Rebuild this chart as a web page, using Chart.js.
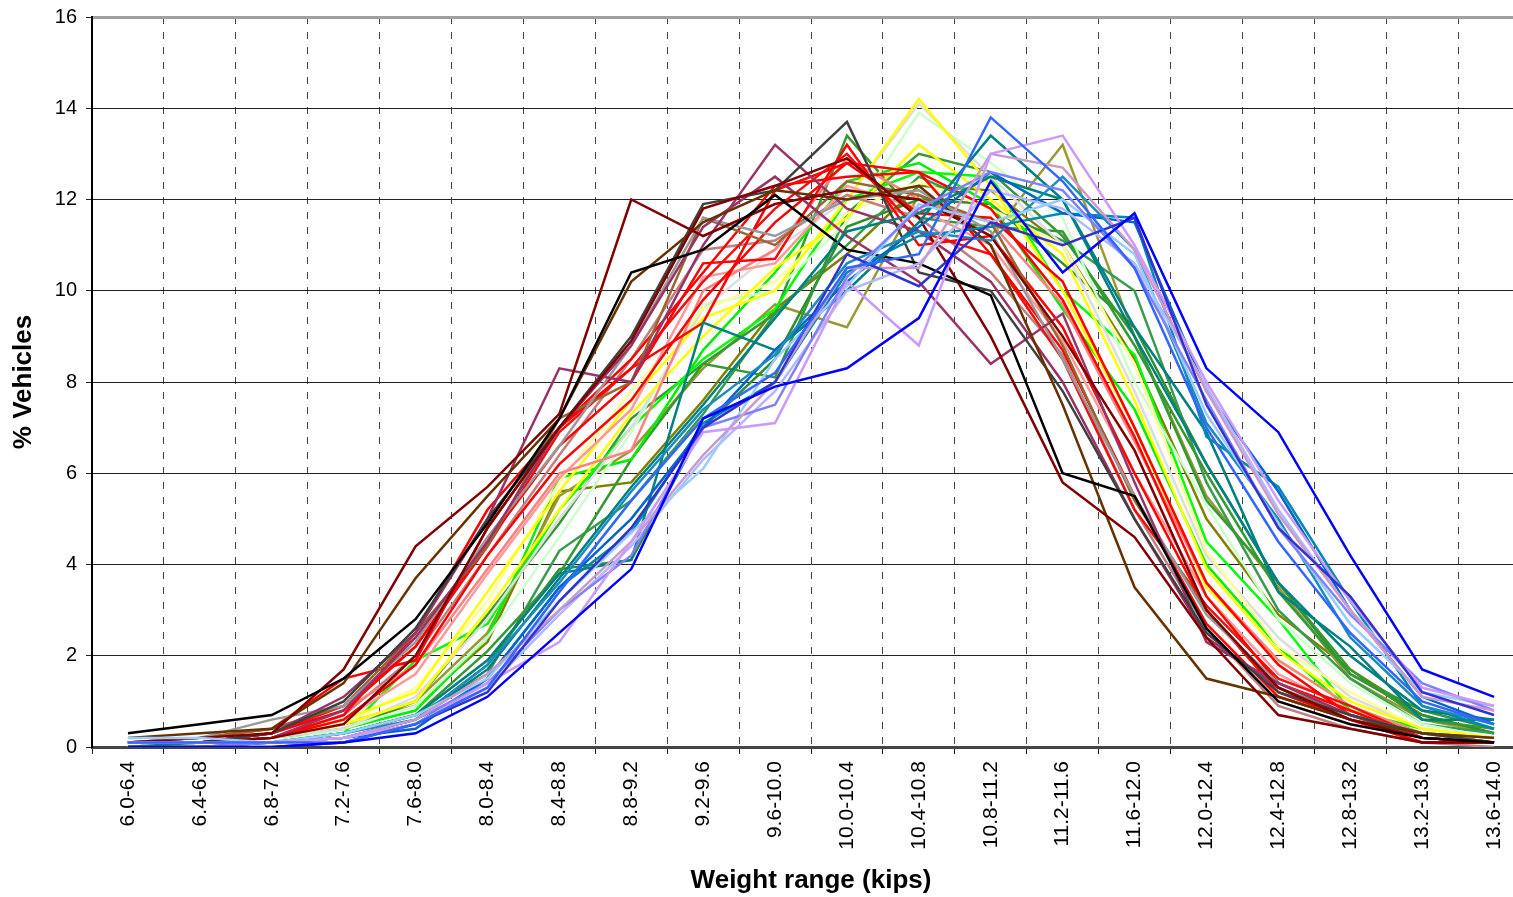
<!DOCTYPE html>
<html>
<head>
<meta charset="utf-8">
<script src="https://cdn.jsdelivr.net/npm/chart.js@4.4.1/dist/chart.umd.min.js"></script>
<style>
  html, body { margin: 0; padding: 0; background: #fff; overflow: hidden; }
  canvas { display: block; }
</style>
</head>
<body>
<canvas id="chart" width="1531" height="897"></canvas>
<script>
// weight bins (kips)
const categories = ['6.0-6.4','6.4-6.8','6.8-7.2','7.2-7.6','7.6-8.0','8.0-8.4','8.4-8.8','8.8-9.2','9.2-9.6','9.6-10.0',
  '10.0-10.4','10.4-10.8','10.8-11.2','11.2-11.6','11.6-12.0','12.0-12.4','12.4-12.8','12.8-13.2','13.2-13.6','13.6-14.0'];

// % vehicles per bin, one array per station
const s01 = [0.3,0.5,0.7,1.5,2.8,4.9,7.2,10.4,10.9,12.1,10.9,10.6,9.9,6.0,5.5,2.6,1.0,0.5,0.2,0.1];
const s02 = [0.1,0.2,0.3,1.7,4.4,5.7,7.3,12.0,11.2,11.9,12.2,12.0,11.2,9.0,6.5,3.0,1.3,0.6,0.2,0.1];
const s03 = [0.1,0.1,0.2,0.5,2.0,4.8,7.0,8.9,11.8,12.3,12.9,11.6,9.0,5.8,4.6,2.4,0.7,0.4,0.1,0.1];
const s04 = [0.2,0.3,0.4,1.4,3.7,5.5,7.2,10.2,11.5,12.2,12.0,12.3,11.0,7.5,3.5,1.5,1.1,0.6,0.3,0.2];
const s05 = [0.1,0.1,0.3,1.0,2.6,5.0,7.0,9.0,11.9,12.2,13.7,10.4,10.0,7.8,5.0,2.5,1.2,0.7,0.3,0.1];
const s06 = [0.1,0.1,0.3,1.1,2.5,5.0,8.3,8.0,11.0,13.2,11.8,11.3,10.2,8.0,5.0,2.4,1.3,0.6,0.2,0.1];
const s07 = [0.1,0.1,0.2,0.8,2.4,4.5,7.0,8.8,11.4,12.5,11.2,10.2,8.4,9.5,5.8,2.3,1.4,0.7,0.2,0.1];
const s08 = [0.1,0.2,0.6,0.9,2.3,4.6,6.6,8.8,11.6,11.2,12.0,12.2,11.3,8.5,5.5,2.9,1.4,0.7,0.3,0.1];
const s09 = [0.1,0.2,0.4,0.9,2.5,4.4,7.2,8.0,11.6,11.0,12.4,12.1,11.5,8.8,5.4,3.0,1.3,0.7,0.3,0.2];
const s10 = [0.1,0.2,0.4,1.5,1.9,4.8,7.0,8.3,9.3,12.2,12.8,12.6,11.8,9.8,6.8,3.3,1.4,0.8,0.2,0.1];
const s11 = [0.1,0.1,0.3,0.8,2.2,4.5,6.6,8.0,10.6,10.7,13.2,11.0,11.2,9.2,6.0,3.0,1.2,0.6,0.1,0.1];
const s12 = [0.1,0.1,0.2,0.7,2.5,5.2,7.0,8.5,10.4,12.3,12.5,12.6,10.8,8.7,5.5,2.7,1.1,0.6,0.1,0.1];
const s13 = [0.1,0.1,0.2,0.6,1.8,4.2,6.2,7.6,9.8,11.5,12.8,11.7,11.6,10.2,7.0,3.6,1.8,0.7,0.2,0.1];
const s14 = [0.1,0.1,0.3,0.9,2.2,4.4,6.9,8.3,10.2,11.8,13.0,11.3,10.8,8.5,5.2,3.1,1.5,0.9,0.2,0.1];
const s15 = [0.1,0.1,0.3,0.8,1.8,3.9,6.0,6.5,10.0,10.9,12.9,12.0,11.5,9.7,6.7,3.6,1.9,0.9,0.3,0.1];
const s16 = [0.1,0.1,0.2,0.6,1.6,3.8,5.9,7.4,10.3,10.6,12.3,11.8,11.0,8.9,6.0,3.3,1.6,0.8,0.3,0.1];
const s17 = [0.1,0.1,0.2,0.7,2.0,4.2,6.4,8.5,10.9,11.1,12.1,11.6,10.4,8.6,5.2,2.6,0.9,0.4,0.1,0.0];
const s18 = [0.1,0.1,0.2,0.6,1.2,3.4,5.6,7.6,9.4,10.0,12.0,14.2,12.3,10.0,7.0,3.5,1.9,0.9,0.3,0.1];
const s19 = [0.0,0.1,0.2,0.5,1.0,3.0,5.2,7.3,9.0,10.5,11.6,13.2,12.0,10.8,7.6,3.9,2.1,1.0,0.4,0.2];
const s20 = [0.0,0.1,0.2,0.5,1.3,3.2,5.8,7.8,9.6,10.2,11.7,12.4,11.8,11.0,8.4,4.3,2.2,1.2,0.4,0.2];
const s21 = [0.0,0.1,0.2,0.4,1.1,2.8,5.0,7.0,9.6,10.9,12.0,14.1,12.5,11.0,7.8,4.2,2.4,1.1,0.4,0.2];
const s22 = [0.0,0.1,0.1,0.4,0.9,2.4,4.6,6.9,9.7,10.0,11.5,13.9,12.8,11.6,8.0,5.3,2.8,1.4,0.5,0.2];
const s23 = [0.0,0.1,0.1,0.3,1.9,2.7,5.2,7.0,8.5,9.6,12.0,12.6,12.5,10.0,8.6,4.5,2.8,0.8,0.3,0.2];
const s24 = [0.0,0.1,0.1,0.4,0.8,2.4,5.9,6.3,8.7,10.4,12.4,12.8,11.9,9.6,7.4,4.0,2.2,0.8,0.4,0.2];
const s25 = [0.0,0.1,0.1,0.3,0.7,2.1,3.8,6.3,8.4,9.5,13.4,11.6,11.4,11.3,8.8,6.0,3.4,1.6,0.8,0.4];
const s26 = [0.0,0.1,0.2,0.4,1.0,2.9,4.9,7.2,8.4,8.1,11.7,13.0,12.6,11.2,9.0,5.4,3.6,1.7,0.6,0.4];
const s27 = [0.0,0.1,0.1,0.3,0.7,1.6,4.3,5.4,7.3,9.5,11.0,12.5,11.8,11.1,10.0,5.8,3.0,1.5,0.5,0.3];
const s28 = [0.0,0.0,0.1,0.2,0.6,1.8,3.9,4.1,7.0,8.5,11.4,12.0,11.9,10.6,9.2,6.2,3.6,1.6,0.7,0.3];
const s29 = [0.1,0.1,0.2,0.5,1.0,2.5,5.5,6.5,8.3,9.7,9.2,12.1,11.2,13.2,9.0,5.5,3.5,1.5,0.6,0.3];
const s30 = [0.0,0.1,0.2,0.5,0.9,2.3,5.6,5.8,7.6,9.6,10.8,12.3,12.2,11.0,8.5,5.0,2.9,1.7,0.7,0.3];
const s31 = [0.1,0.1,0.1,0.3,0.7,1.9,3.8,4.1,9.3,8.7,10.0,11.5,13.4,12.0,9.0,6.2,3.6,2.0,0.8,0.6];
const s32 = [0.1,0.1,0.1,0.2,0.5,1.5,3.5,4.7,7.1,8.0,10.4,11.2,11.4,11.7,11.6,6.8,5.7,3.2,0.9,0.4];
const s33 = [0.0,0.1,0.1,0.2,0.6,1.7,3.7,5.7,7.5,9.4,11.3,11.7,12.5,12.0,9.2,6.9,3.4,2.2,0.6,0.6];
const s34 = [0.0,0.0,0.0,0.1,0.3,1.1,2.5,3.9,7.2,7.9,8.3,9.4,12.4,10.4,11.7,8.3,6.9,4.2,1.7,1.1];
const s35 = [0.1,0.1,0.1,0.1,0.5,1.3,3.4,5.4,7.2,8.2,10.5,10.8,13.8,12.4,10.5,7.0,4.5,2.5,1.0,0.5];
const s36 = [0.0,0.0,0.0,0.1,0.5,1.2,3.2,4.8,7.0,8.0,10.8,10.1,11.5,11.0,11.6,7.5,4.8,3.3,1.2,0.7];
const s37 = [0.1,0.1,0.1,0.2,0.5,1.4,2.3,4.5,6.9,7.1,10.2,8.8,13.0,13.4,11.0,8.0,5.4,3.2,1.3,0.9];
const s38 = [0.1,0.1,0.1,0.2,0.6,1.6,3.0,4.5,6.4,8.0,10.5,10.5,13.0,12.7,10.9,7.8,5.1,3.0,1.1,0.8];
const s39 = [0.0,0.0,0.1,0.2,0.6,1.4,3.0,4.2,7.0,7.5,10.3,11.8,12.6,12.2,10.5,7.6,4.8,2.9,1.4,0.8];
const s40 = [0.2,0.2,0.1,0.3,0.7,1.5,3.2,4.7,6.1,8.5,10.1,11.9,11.5,12.0,10.8,7.3,4.9,2.7,1.2,0.9];
const s41 = [0.1,0.1,0.1,0.2,0.5,1.3,2.9,4.4,6.3,7.8,10.0,10.6,12.2,11.8,10.6,7.9,5.2,3.0,1.3,0.9];
const s42 = [0.1,0.1,0.1,0.3,0.6,1.8,3.6,5.6,7.4,8.6,10.6,11.3,11.1,12.5,10.9,7.1,5.0,2.4,0.9,0.5];
const s43 = [0.0,0.0,0.1,0.2,0.4,1.5,3.5,5.0,7.0,8.7,10.2,11.4,12.6,11.7,11.5,7.8,5.6,3.0,1.1,0.5];

const allSeries = [s34,s35,s36,s37,s38,s39,s40,s41,s42,s43,s31,s32,s33,s01,s02,s03,s04,s05,s06,s07,s08,s09,
  s10,s11,s12,s13,s14,s15,s16,s17,s18,s19,s20,s21,s22,s23,s24,s25,s26,s27,s28,s29,s30];
const seriesColors = ['#0000ff','#3366ff','#3333cc','#cc99ff','#cc99cc','#8080ff','#99ccff','#b0b8ff','#1a8cc0','#0066cc',
  '#008080','#0088b0','#008080','#000000','#800000','#800000','#663300','#404040','#993366','#993366','#999999','#996633',
  '#ff0000','#ff0000','#ff0000','#ff0000','#ee1111','#ff8080','#ff9999','#c08080','#ffff00','#ffff00','#ffff99','#dddddd',
  '#ccffcc','#00ff00','#00ee00','#339933','#339933','#3a9a50','#2f8f2f','#999933','#808000'];

const yMin = 0, yMax = 16, yStep = 2;

(function(){
  const font = "'Liberation Sans', Arial, sans-serif";
  const datasets = allSeries.map((d, i) => ({
    data: d, borderColor: seriesColors[i], borderWidth: 2.5, pointRadius: 0, fill: false, tension: 0
  }));

  new Chart(document.getElementById('chart'), {
    type: 'line',
    data: { labels: categories, datasets: datasets },
    options: {
      responsive: false,
      animation: false,
      layout: { padding: { top: 17, right: 1, left: 0, bottom: 0 } },
      plugins: { legend: { display: false }, tooltip: { enabled: false } },
      scales: {
        x: {
          offset: true,
          grid: { offset: true, color: '#444', lineWidth: 1, tickLength: 7, tickColor: '#222', tickBorderDash: [] },
          border: { display: true, color: '#444', width: 3, dash: [7, 8] },
          ticks: { autoSkip: false, maxRotation: 90, minRotation: 90, color: '#000', padding: 7,
                   font: { family: font, size: 21 } },
          title: { display: true, text: 'Weight range (kips)', color: '#000', padding: { top: 0, bottom: 1 },
                   font: { family: font, size: 26, weight: 'bold' } },
          afterFit: s => { s.height = 150; }
        },
        y: {
          min: yMin, max: yMax,
          ticks: { stepSize: yStep, color: '#000', padding: 9, font: { family: font, size: 20 } },
          grid: {
            color: c => c.tick && c.tick.value === yMax ? '#a0a0a0' : '#222',
            lineWidth: c => c.tick && c.tick.value === yMax ? 3 : 1,
            tickLength: 6, tickColor: '#222', tickWidth: 1
          },
          border: { display: true, color: '#000', width: 2 },
          title: { display: true, text: '% Vehicles', color: '#000', padding: { top: 8, bottom: 0 },
                   font: { family: font, size: 26, weight: 'bold' } },
          afterFit: s => { s.width = 92; s.paddingTop = 0; s.paddingBottom = 0; }
        }
      }
    }
  });
})();
</script>
</body>
</html>
